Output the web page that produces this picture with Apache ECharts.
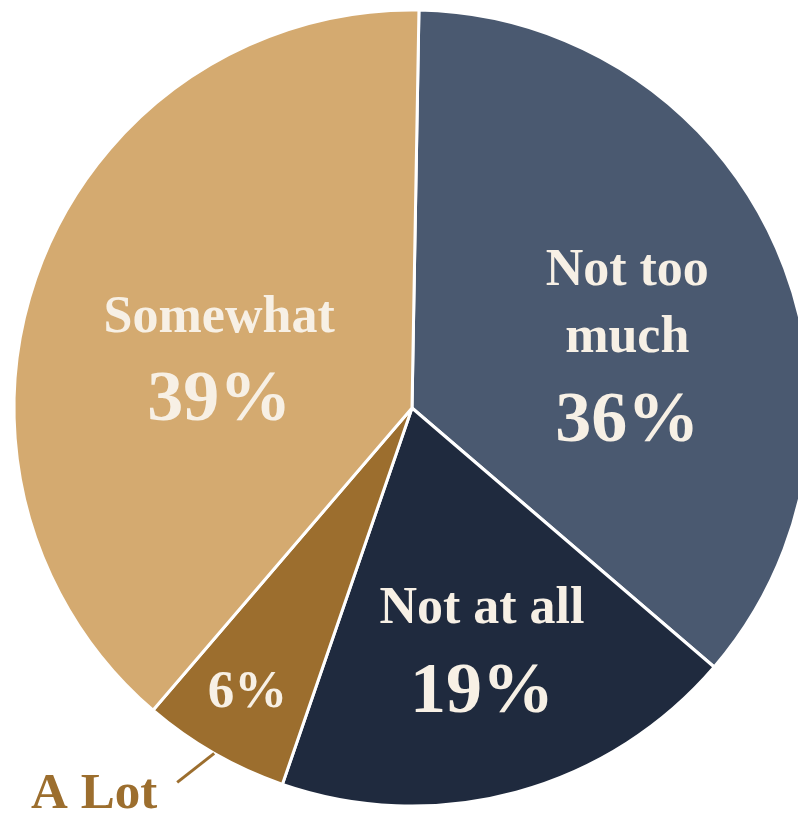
<!DOCTYPE html>
<html>
<head>
<meta charset="utf-8">
<script src="https://cdn.jsdelivr.net/npm/echarts@6/dist/echarts.min.js"></script>
<style>
  html, body { margin: 0; padding: 0; background: #ffffff; }
  #chart { width: 798px; height: 816px; }
</style>
</head>
<body>
<div id="chart"></div>
<script>
// ---- data ----
const categories = ['Not too much', 'Not at all', 'A Lot', 'Somewhat'];
const values = [36, 19, 6, 39];
// text shown inside each slice above the percentage ('' = percentage only)
const insideTitles = ['Not too\nmuch', 'Not at all', '', 'Somewhat'];
// categories labelled outside the pie with a leader line
const outsideLabels = ['A Lot'];

// ---- style ----
const colors = ['#4A5970', '#1F2A3E', '#9C6E2E', '#D4AA70'];
const cream = '#F7F0E5';
const font = 'Liberation Serif';
const insideOffsets = [[31, 30], [17, 57], [-64, 110], [-4, 32]];

const chart = echarts.init(document.getElementById('chart'), null, { renderer: 'canvas' });

const mainData = categories.map((name, i) => ({
  name: name,
  value: values[i],
  itemStyle: { color: colors[i] },
  label: { offset: insideOffsets[i] }
}));

const outerData = categories.map((name, i) => ({
  name: name,
  value: values[i],
  label: { show: outsideLabels.indexOf(name) >= 0 },
  labelLine: { show: outsideLabels.indexOf(name) >= 0 }
}));

const common = {
  type: 'pie',
  center: [412, 408],
  radius: [0, 398],
  startAngle: 89,
  clockwise: true,
  avoidLabelOverlap: false,
  animation: false,
  emphasis: { disabled: true },
  silent: true
};

chart.setOption({
  backgroundColor: '#ffffff',
  series: [
    Object.assign({}, common, {
      data: mainData,
      itemStyle: { borderColor: '#ffffff', borderWidth: 3 },
      label: {
        show: true,
        position: 'inside',
        formatter: function (p) {
          const t = insideTitles[p.dataIndex];
          return t ? '{n|' + t.split('\n').join('}\n{n|') + '}\n{p|' + p.value + '%}' : '{s|' + p.value + '%}';
        },
        rich: {
          n: { fontFamily: font, fontWeight: 'bold', fontSize: 52, lineHeight: 67, color: cream, align: 'center' },
          p: { fontFamily: font, fontWeight: 'bold', fontSize: 72, lineHeight: 100, color: cream, align: 'center' },
          s: { fontFamily: font, fontWeight: 'bold', fontSize: 53, lineHeight: 60, color: cream, align: 'center' }
        }
      },
      labelLine: { show: false }
    }),
    Object.assign({}, common, {
      data: outerData,
      z: 3,
      itemStyle: { color: 'rgba(0,0,0,0)', borderWidth: 0 },
      label: {
        position: 'outside',
        formatter: '{b}',
        fontFamily: font,
        fontWeight: 'bold',
        fontSize: 51,
        color: '#9C6E2E'
      },
      labelLine: {
        length: 20,
        length2: 20,
        lineStyle: { color: '#9C6E2E', width: 3 }
      },
      labelLayout: function (params) {
        const pts = params.labelLinePoints;
        if (!pts) return {};
        const p0 = pts[0];
        return {
          x: p0[0] - 57,
          y: p0[1] + 41,
          align: 'right',
          verticalAlign: 'middle',
          labelLinePoints: [p0, [p0[0] - 37, p0[1] + 29]]
        };
      }
    })
  ]
});
</script>
</body>
</html>
